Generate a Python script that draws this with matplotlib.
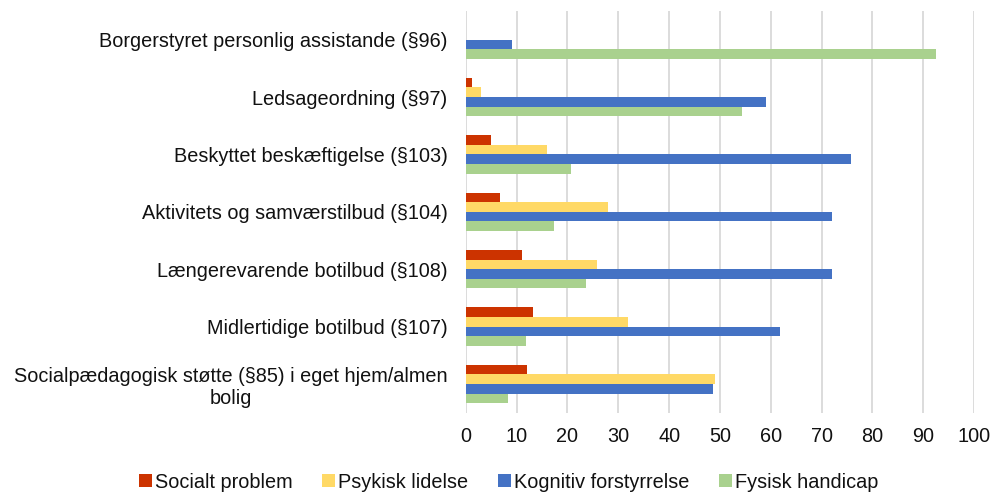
import matplotlib
matplotlib.use("Agg")
import matplotlib.pyplot as plt
import numpy as np

plt.rcParams['font.family'] = ['Liberation Sans', 'DejaVu Sans']

categories = [
    "Borgerstyret personlig assistande (§96)",
    "Ledsageordning (§97)",
    "Beskyttet beskæftigelse (§103)",
    "Aktivitets og samværstilbud (§104)",
    "Længerevarende botilbud (§108)",
    "Midlertidige botilbud (§107)",
    "Socialpædagogisk støtte (§85) i eget hjem/almen\nbolig",
]
series_names = ["Socialt problem", "Psykisk lidelse", "Kognitiv forstyrrelse", "Fysisk handicap"]
socialt = [0, 1.2, 4.9, 6.8, 11.1, 13.2, 12.1]
psykisk = [0, 3.0, 16.0, 27.9, 25.8, 31.9, 49.0]
kognitiv = [9.1, 59.1, 75.7, 72.1, 72.1, 61.9, 48.7]
fysisk = [92.5, 54.4, 20.8, 17.3, 23.7, 11.8, 8.3]
colors = ["#CC3300", "#FFD966", "#4472C4", "#A9D18E"]
xticks = [0, 10, 20, 30, 40, 50, 60, 70, 80, 90, 100]

FS = 14.3
TXT = "#111111"

fig = plt.figure(figsize=(9.93, 4.96), dpi=100)
ax = fig.add_axes([0.469, 0.168, 0.512, 0.81])

data = [socialt, psykisk, kognitiv, fysisk]
n = len(categories)
y = np.arange(n)
group = 1 / 1.5
h = group / 4
for i, (vals, name, c) in enumerate(zip(data, series_names, colors)):
    offs = -group / 2 + h * (i + 0.5)
    ax.barh(y + offs, vals, height=h, color=c, label=name, zorder=3)

ax.set_ylim(n - 0.5, -0.5)
ax.set_xlim(0, 100)
ax.set_xticks(xticks)
ax.set_xticklabels([str(t) for t in xticks], fontsize=FS, color=TXT)
ax.set_yticks(y)
ax.set_yticklabels(categories, fontsize=FS, color=TXT, multialignment='center')
ax.tick_params(axis='y', length=0, pad=13)
ax.tick_params(axis='x', length=0, pad=10)
ax.grid(axis='x', color="#D9D9D9", linewidth=1.3, zorder=0)
for s in ax.spines.values():
    s.set_visible(False)

leg = fig.legend(*ax.get_legend_handles_labels(), loc='center', bbox_to_anchor=(0.512, 0.028),
                 ncol=4, frameon=False, fontsize=FS, handlelength=0.65, handleheight=0.65,
                 handletextpad=0.15, columnspacing=1.5, borderpad=0)
for t in leg.get_texts():
    t.set_color(TXT)

fig.savefig("out.png", dpi=100)
